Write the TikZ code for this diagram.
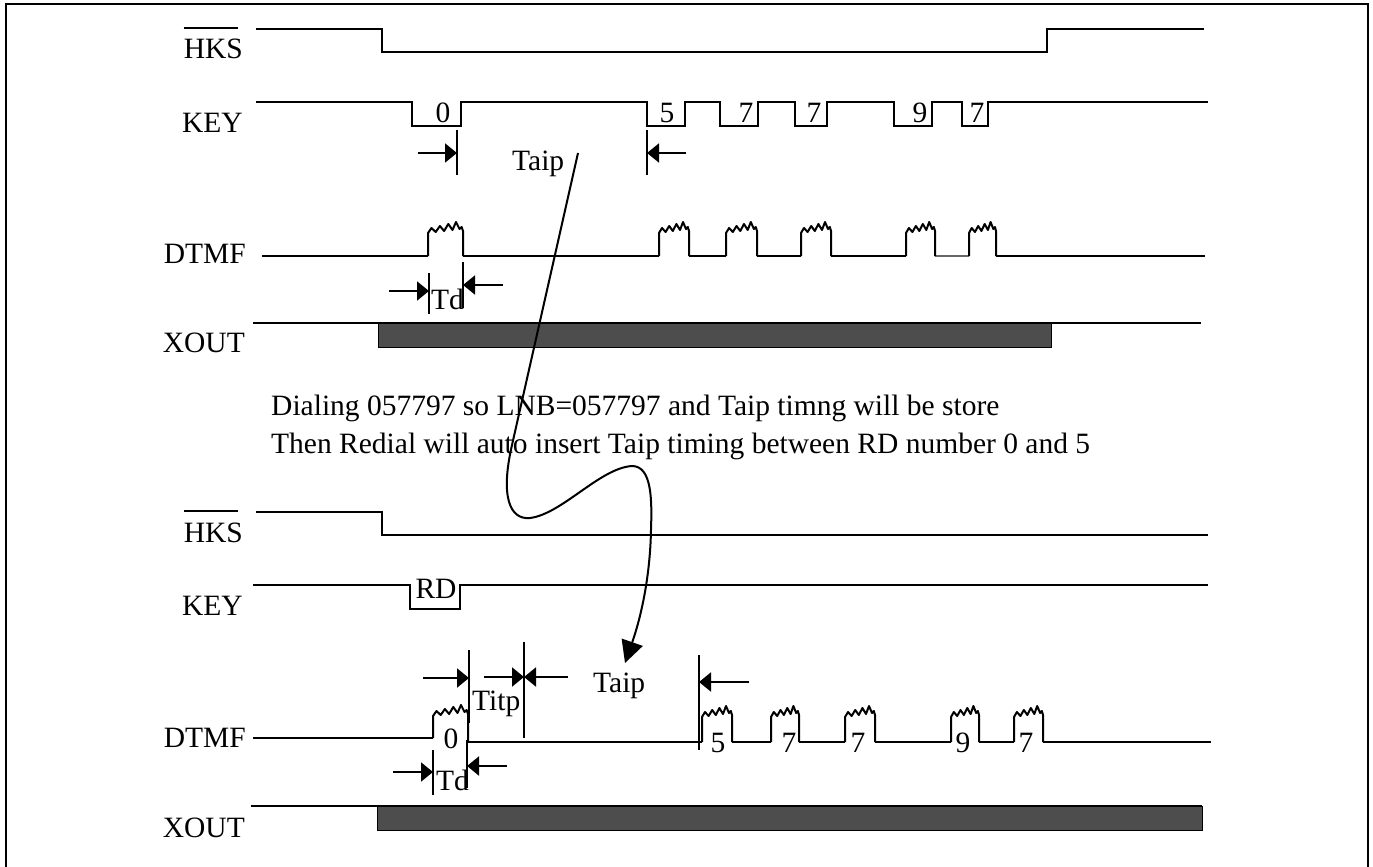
\documentclass[tikz,border=0pt]{standalone}
\usepackage{fontspec}
\setmainfont{Liberation Serif}
\usetikzlibrary{arrows.meta,calc}
\definecolor{barcol}{HTML}{4D4D4D}
\newcommand\dfont{\fontsize{29.5}{38}\selectfont}
% burst: x1, x2, left base y, top y, right base y
\newcommand\burst[5]{%
  \draw[sig,line join=round] (#1,#3) -- (#1,#4)
   -- ({#1+0.10*(#2-#1)},{#4-5})
   -- ({#1+0.22*(#2-#1)},{#4-1})
   -- ({#1+0.34*(#2-#1)},{#4-7})
   -- ({#1+0.46*(#2-#1)},{#4-2})
   -- ({#1+0.58*(#2-#1)},{#4-9})
   -- ({#1+0.70*(#2-#1)},{#4-3})
   -- ({#1+0.80*(#2-#1)},{#4-11})
   -- ({#1+0.90*(#2-#1)},{#4-4})
   -- ({#1+0.96*(#2-#1)},{#4-6})
   -- (#2,{#4-2}) -- (#2,#5);}
\begin{document}
\begin{tikzpicture}[x=1pt,y=-1pt,
  sig/.style={line width=2pt},
  tick/.style={line width=2pt},
  dimarrow/.style={line width=2pt,-{Triangle[length=12pt,width=19pt]}},
  lbl/.style={anchor=base east,inner sep=0pt,font=\dfont},
  txt/.style={inner sep=0pt,font=\dfont},
  dig/.style={inner sep=0pt,font=\dfont},
  bar/.style={fill=barcol,draw=black,line width=1pt}]
\useasboundingbox (0,0) rectangle (1373,867);
% frame
\draw[line width=2.5pt] (6,880) -- (6,4) -- (1368,4) -- (1368,880);

% ===== top diagram =====
\node[lbl] (hks1) at (243,59) {HKS};
\draw[sig] ([yshift=11pt]hks1.north west) -- ([xshift=-5pt,yshift=11pt]hks1.north east);
\node[lbl] (key1) at (243,132) {KEY};
\node[lbl] (dtmf1) at (246,263) {DTMF};
\node[lbl] (xout1) at (245,352) {XOUT};

\draw[sig] (256,29) -- (382,29) -- (382,52) -- (1047,52) -- (1047,29) -- (1204,29);

\draw[sig] (256,102) -- (412,102) -- (412,126) -- (461,126) -- (461,102)
  -- (647,102) -- (647,126) -- (685,126) -- (685,102)
  -- (720,102) -- (720,126) -- (758,126) -- (758,102)
  -- (795,102) -- (795,126) -- (827,126) -- (827,102)
  -- (894,102) -- (894,126) -- (932,126) -- (932,102)
  -- (962,102) -- (962,126) -- (988,126) -- (988,102) -- (1208,102);
\node[dig] (k0) at (443,113) {0};
\node[dig] (k5) at (667,113) {5};
\node[dig] (k7a) at (746,113) {7};
\node[dig] (k7b) at (814,113) {7};
\node[dig] (k9) at (920,113) {9};
\node[dig] (k7c) at (977,113) {7};

\draw[tick] (457,130) -- (457,175);
\draw[dimarrow] (418,153) -- (457,153);
\draw[tick] (647,130) -- (647,175);
\draw[dimarrow] (686,153) -- (647,153);
\node[txt,anchor=base west] (taip1) at (512,170) {Taip};

\foreach \a/\b in {262/428,463/659,689/726,757/801,831/906,996/1205}
  {\draw[sig] (\a,256) -- (\b,256);}
\draw[line width=1.2pt,black!60] (935,256) -- (969,256);
\foreach \a/\b in {428/463,659/689,726/757,801/831,906/935,969/996}
  {\burst{\a}{\b}{256}{233}{256}}

\draw[tick] (429,273) -- (429,314);
\draw[dimarrow] (389,291) -- (429,291);
\draw[tick] (463,262) -- (463,308);
\draw[dimarrow] (503,285) -- (463,285);
\node[txt,anchor=base west] (td1) at (431,309) {Td};

\draw[bar] (378,323) rectangle (1051,347);
\draw[sig] (253,323) -- (1201,323);

% ===== notes =====
\node[txt,anchor=base west] (note1) at (271,415) {Dialing 057797 so LNB=057797 and Taip timng will be store};
\node[txt,anchor=base west] (note2) at (271,453) {Then Redial will auto insert Taip timing between RD number 0 and 5};

% ===== bottom diagram =====
\node[lbl] (hks2) at (243,542) {HKS};
\draw[sig] ([yshift=11pt]hks2.north west) -- ([xshift=-5pt,yshift=11pt]hks2.north east);
\node[lbl] (key2) at (243,615) {KEY};
\node[lbl] (dtmf2) at (246,747) {DTMF};
\node[lbl] (xout2) at (245,837) {XOUT};

\draw[sig] (256,512) -- (382,512) -- (382,535) -- (1208,535);
\draw[sig] (253,585) -- (410,585) -- (410,609) -- (460,609) -- (460,585) -- (1208,585);
\node[dig] (rd) at (436,589) {RD};

\draw[sig] (253,738) -- (433,738);
\burst{433}{468}{738}{716}{742}
\foreach \a/\b in {468/702,732/771,799/845,875/951,979/1014,1043/1211}
  {\draw[sig] (\a,742) -- (\b,742);}
\foreach \a/\b in {702/732,771/799,845/875,951/979,1014/1043}
  {\burst{\a}{\b}{742}{717}{742}}
\node[dig] (d0) at (451,739) {0};
\node[dig] (d5) at (718,743) {5};
\node[dig] (d7a) at (789,743) {7};
\node[dig] (d7b) at (858,743) {7};
\node[dig] (d9) at (963,743) {9};
\node[dig] (d7c) at (1026,743) {7};

\draw[tick] (469,650) -- (469,723);
\draw[dimarrow] (423,678) -- (469,678);
\node[txt,anchor=base west] (titp) at (472,710) {Titp};
\draw[tick] (524,642) -- (524,738);
\draw[dimarrow] (484,677) -- (524,677);
\draw[dimarrow] (568,677) -- (524,677);
\node[txt,anchor=base west] (taip2) at (593,692) {Taip};
\draw[tick] (699,655) -- (699,750);
\draw[dimarrow] (749,682) -- (699,682);

\draw[tick] (433,750) -- (433,795);
\draw[dimarrow] (393,772) -- (433,772);
\draw[tick] (467,740) -- (467,788);
\draw[dimarrow] (507,766) -- (467,766);
\node[txt,anchor=base west] (td2) at (436,790) {Td};

\draw[bar] (377,806) rectangle (1202,830);
\draw[sig] (251,806) -- (1202,806);

% ===== curved arrow from top Taip to bottom Taip =====
\coordinate (cs) at (578,153);
\coordinate (ce) at (625,663);
\draw[line width=2pt,-{Triangle[length=22pt,width=22pt]}] (cs) -- (512,445)
  .. controls (500,497) and (510,520) .. (530,518)
  .. controls (562,514) and (600,468) .. (632,466)
  .. controls (652,466) and (652,500) .. (651,530)
  .. controls (650,580) and (640,620) .. (ce);
\end{tikzpicture}
\end{document}
